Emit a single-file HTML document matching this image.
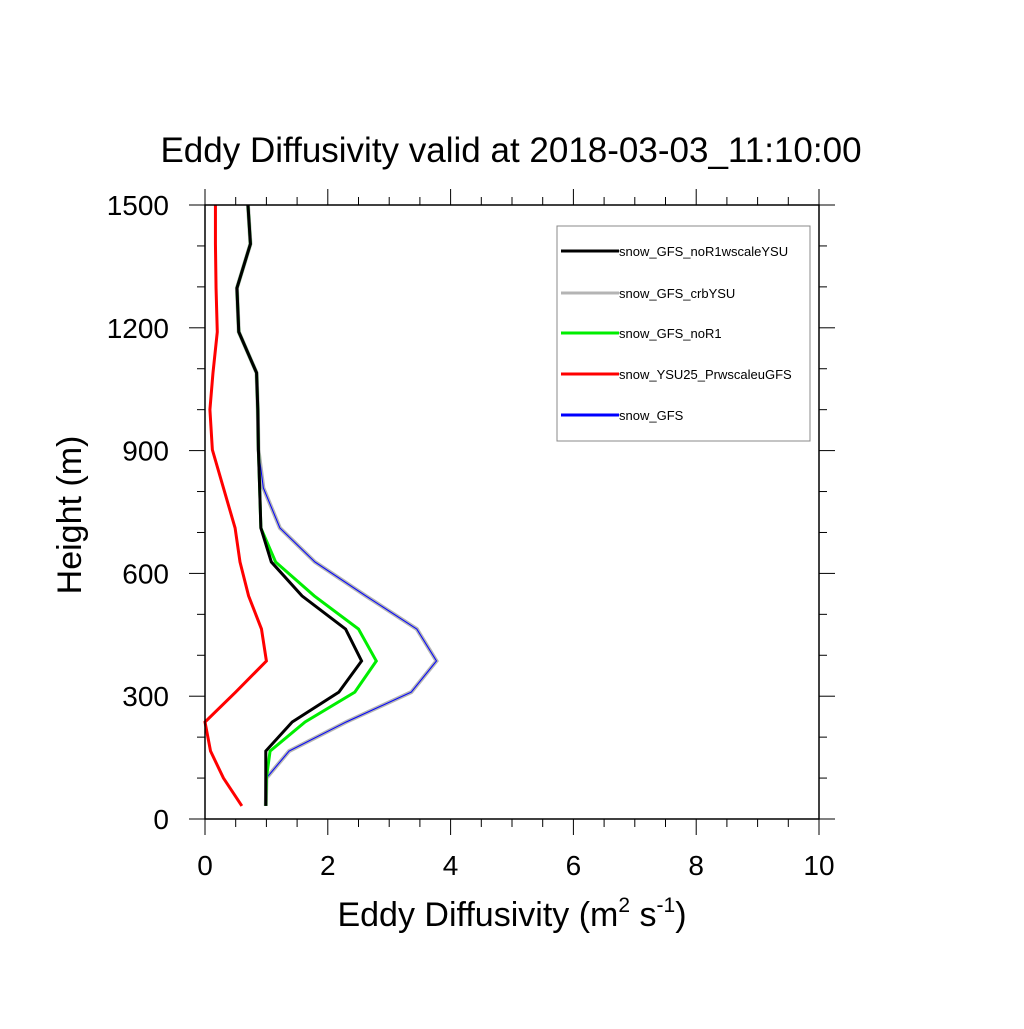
<!DOCTYPE html>
<html><head><meta charset="utf-8"><style>
body{margin:0;background:#fff;font-family:"Liberation Sans",sans-serif}
</style></head><body>
<svg id="chart" width="1024" height="1024" xmlns="http://www.w3.org/2000/svg" font-family="Liberation Sans, sans-serif">
<rect width="1024" height="1024" fill="#fff"/>
<text x="511" y="162" font-size="35" text-anchor="middle">Eddy Diffusivity valid at 2018-03-03_11:10:00</text>
<g id="ticks"></g>
<g id="series"></g>
<rect x="205" y="205" width="614" height="614" fill="none" stroke="#000" stroke-width="1.5"/>
<text transform="translate(81,515) rotate(-90)" font-size="34" text-anchor="middle">Height (m)</text>
<text x="512" y="926" font-size="34" text-anchor="middle">Eddy Diffusivity (m<tspan font-size="21" dy="-14">2</tspan><tspan dy="14"> s</tspan><tspan font-size="21" dy="-14">-1</tspan><tspan dy="14">)</tspan></text>
<g id="legend">
<rect x="557" y="226" width="253" height="215" fill="#fff" stroke="#888" stroke-width="1"/>
</g>
</svg>
<script>
const heights=[32,100,166,237,310,386,464,545,628,711,809,902,1000,1090,1190,1297,1405,1500];
const seriesNames=["snow_GFS_noR1wscaleYSU","snow_GFS_crbYSU","snow_GFS_noR1","snow_YSU25_PrwscaleuGFS","snow_GFS"];
const noR1wscaleYSU=[0.99,0.99,0.99,1.42,2.18,2.55,2.29,1.58,1.08,0.91,0.89,0.87,0.86,0.84,0.55,0.52,0.74,0.70];
const crbYSU=[0.99,1.0,1.37,2.3,3.36,3.77,3.45,2.62,1.79,1.22,0.95,0.87,0.86,0.84,0.55,0.52,0.74,0.70];
const noR1=[0.99,1.0,1.06,1.63,2.44,2.79,2.50,1.78,1.15,0.91,0.89,0.87,0.86,0.84,0.55,0.52,0.74,0.70];
const ysu25=[0.60,0.30,0.09,0.0,0.5,1.0,0.92,0.71,0.57,0.49,0.30,0.12,0.08,0.13,0.20,0.18,0.17,0.17];
const gfs=crbYSU.slice();
const xTicks=[0,2,4,6,8,10];
const yTicks=[0,300,600,900,1200,1500];
const X=v=>205+v*61.4, Y=h=>819-h*0.40933;
const NS="http://www.w3.org/2000/svg";
function mk(tag,attrs,parent){const e=document.createElementNS(NS,tag);for(const k in attrs)e.setAttribute(k,attrs[k]);parent.appendChild(e);return e;}
const tg=document.getElementById('ticks');
for(let v=0;v<=10.001;v+=0.5){const maj=Math.abs(v-Math.round(v/2)*2)<1e-6;const L=maj?16:8;
 let t=mk('line',{x1:X(v),x2:X(v),y1:819,y2:819+L,stroke:'#000','stroke-width':1},tg);
 
 
 t=mk('line',{x1:X(v),x2:X(v),y1:205,y2:205-L,stroke:'#000','stroke-width':1},tg);
 
 }
for(let h=0;h<=1500;h+=100){const maj=h%300===0;const L=maj?16:8;
 let t=mk('line',{x1:205,x2:205-L,y1:Y(h),y2:Y(h),stroke:'#000','stroke-width':1},tg);
 
 
 t=mk('line',{x1:819,x2:819+L,y1:Y(h),y2:Y(h),stroke:'#000','stroke-width':1},tg);
 
 }
xTicks.forEach(v=>{const t=mk('text',{x:X(v),y:875,'font-size':28,'text-anchor':'middle'},tg);t.textContent=v;
 
 });
yTicks.forEach(h=>{const t=mk('text',{x:169,y:Y(h)+10,'font-size':28,'text-anchor':'end'},tg);t.textContent=h;
 
 });
const sg=document.getElementById('series');
const defs=[[ysu25,'#ff0000',3],[crbYSU,'#b4b4b4',4],[gfs,'#0000ff',1],[noR1,'#00ee00',3],[noR1wscaleYSU,'#000000',3]];
const slugs=['series-ysu25','series-crbysu','series-gfs','series-nor1','series-nor1wscaleysu'];
defs.forEach((d,i)=>{const pts=d[0].map((v,j)=>X(v)+','+Y(heights[j])).join(' ');
 const p=mk('polyline',{points:pts,fill:'none',stroke:d[1],'stroke-width':d[2],'stroke-linejoin':'miter'},sg);
 
 });
const lg=document.getElementById('legend');
const lcol=['#000000','#b4b4b4','#00ee00','#ff0000','#0000ff'];
const ly=[251,293,333,374,415];
seriesNames.forEach((n,i)=>{const l=mk('line',{x1:561,x2:619,y1:ly[i],y2:ly[i],stroke:lcol[i],'stroke-width':3},lg);
 
 
 const t=mk('text',{x:619,y:ly[i]+5,'font-size':13},lg);t.textContent=n;
 
 });
</script>
</body></html>
